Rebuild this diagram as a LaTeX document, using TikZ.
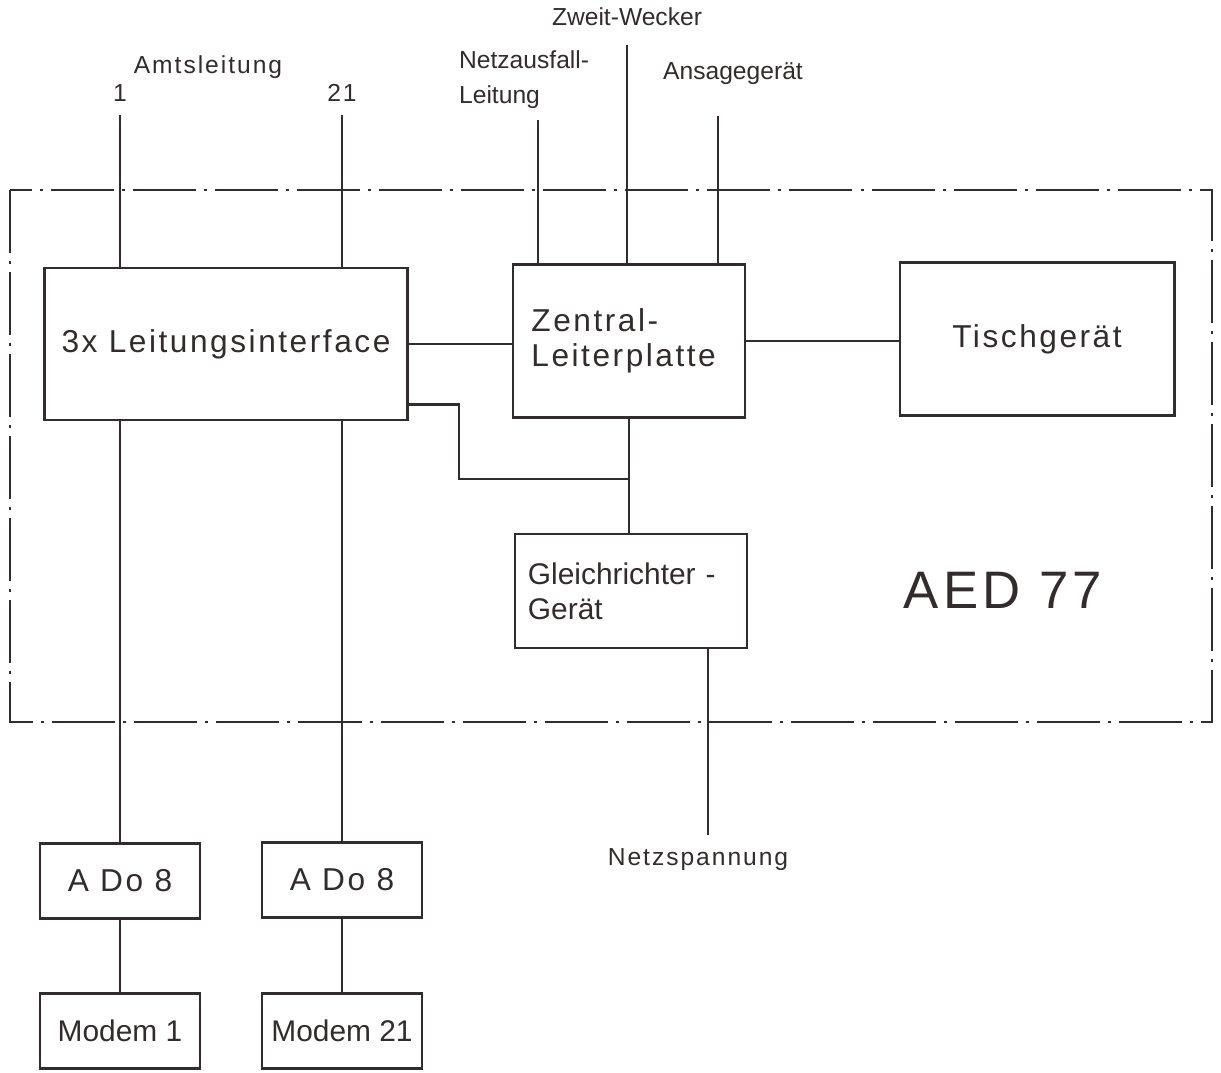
\documentclass[tikz,border=0pt]{standalone}
\usepackage{fontspec}
\setmainfont{Liberation Sans}[LetterSpace=8]
\usetikzlibrary{calc}
\definecolor{aed-ink}{RGB}{50,44,44}

\begin{document}
\begin{tikzpicture}[x=0.01cm, y=-0.01cm, line width=0.8pt, aed-ink,
    blockbox/.style={draw, inner sep=0pt, font=\fontsize{9}{10}\selectfont},
    smallbox/.style={draw, inner sep=0pt, minimum width=1.6cm, minimum height=0.75cm, font=\fontsize{9}{11}\selectfont},
    outlabel/.style={font=\fontsize{7}{10}\selectfont},
    tightlabel/.style={font=\fontsize{7}{10}\selectfont\addfontfeatures{LetterSpace=0}}]
    \useasboundingbox (0,0) rectangle (1221,1072);

    % AED 77 housing
    \draw[dash pattern=on 6.3mm off 0.8mm on 0.3mm off 0.8mm] (10,190) rectangle (1212,722);
    \node[font=\fontsize{15}{18}\selectfont] (aed) at (1003,590) {AED 77};

    \node[blockbox, minimum width=3.63cm, minimum height=1.52cm] (iface) at (226,344) {3x Leitungsinterface};
    \node[blockbox, minimum width=2.32cm, minimum height=1.53cm, text width=1.95cm, align=left] (zentral) at (629,341) {Zentral-\\Leiterplatte};
    \node[blockbox, minimum width=2.74cm, minimum height=1.53cm] (tisch) at (1037,339) {Tischgerät};
    \node[blockbox, minimum width=2.32cm, minimum height=1.14cm, text width=2.06cm, align=left,
          font=\fontsize{8.5}{10}\selectfont\addfontfeatures{LetterSpace=0}] (gleich) at (631,591) {Gleichrichter -\\Gerät};

    \node[smallbox] (ado1) at (120,881) {A Do 8};
    \node[smallbox] (ado2) at (342,880) {A Do 8};
    \node[smallbox, font=\fontsize{8.5}{11}\selectfont\addfontfeatures{LetterSpace=0}] (mod1) at (120,1031) {Modem 1};
    \node[smallbox, font=\fontsize{8.5}{11}\selectfont\addfontfeatures{LetterSpace=0}] (mod2) at (342,1031) {Modem 21};

    % outside lines
    \coordinate (am1) at (120,115);
    \coordinate (am21) at (342,115);
    \coordinate (nzl) at (538,120);
    \coordinate (zwk) at (627,45);
    \coordinate (ans) at (718,116);
    \coordinate (netz) at (708,835);
    \coordinate (tap) at (629,479);

    \node[outlabel] (amts) at (208,67) {Amtsleitung};
    \node[outlabel, anchor=south] (l1) at (am1) {1};
    \node[outlabel, anchor=south] (l21) at (am21) {21};
    \node[tightlabel, align=left, anchor=west] (nzlab) at (446,80) {Netzausfall-\\Leitung};
    \node[tightlabel] (zwlab) at (627,17) {Zweit-Wecker};
    \node[tightlabel] (anlab) at (733,74) {Ansagegerät};
    \node[outlabel] (netzlab) at (698,860) {Netzspannung};

    \draw (am1) -- (am1 |- iface.north);
    \draw (am21) -- (am21 |- iface.north);
    \draw (am1 |- iface.south) -- (ado1.north);
    \draw (am21 |- iface.south) -- (ado2.north);
    \draw (ado1) -- (mod1);
    \draw (ado2) -- (mod2);

    \draw (nzl) -- (nzl |- zentral.north);
    \draw (zwk) -- (zwk |- zentral.north);
    \draw (ans) -- (ans |- zentral.north);

    \draw (iface.east) -- (iface.east -| zentral.west);
    \draw (zentral.east) -- (zentral.east -| tisch.west);
    \draw ($(iface.south east)+(0,-17)$) -- ++(50,0) |- (tap);
    \draw (zentral.south) -- (zentral.south |- gleich.north);
    \draw (gleich.south -| netz) -- (netz);
\end{tikzpicture}
\end{document}
